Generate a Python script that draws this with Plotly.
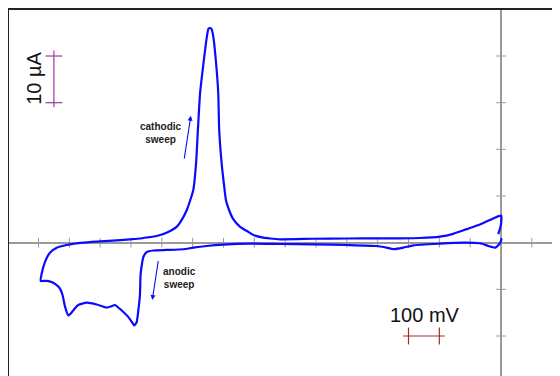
import plotly.graph_objects as go

# Cyclic voltammogram (potential in mV, current in µA)
potential_mV = [
    -9, -1, 1, 1,
    -25, -68, -111, -155, -198, -263, -328, -392, -500, -609, -717, -749, -771,
    -803, -824, -846, -869, -882, -892, -898, -906, -914, -917, -924, -933,
    -939, -944, -949, -954, -965, -976, -983, -989, -998, -1019, -1041, -1052,
    -1073, -1095, -1117, -1149, -1171, -1203, -1246, -1300, -1355, -1408, -1441,
    -1463, -1479, -1490, -1493,
    -1484, -1472, -1452, -1436, -1429, -1422, -1414, -1403, -1392, -1382, -1371,
    -1344, -1311, -1279, -1265, -1252, -1236, -1223, -1209, -1197, -1190, -1182,
    -1176, -1171, -1169, -1164, -1160, -1149, -1128, -1084, -1030, -998, -954,
    -901, -814, -717, -609, -500, -403, -371, -349, -317, -284, -198, -122, -68,
    -41, -19, -9, -1, 2,
]
current_uA = [
    1.8, 3.6, 4.7, 5.8,
    5.2, 3.9, 2.9, 1.9, 1.3, 1.0, 0.94, 0.94, 0.9, 0.84, 0.73, 0.9, 1.07,
    1.65, 2.5, 3.4, 5.1, 7.0, 9.1, 12.2, 17.0, 24.2, 32.0, 38.4, 44.1,
    45.8, 46.0, 45.8, 44.1, 38.4, 32.0, 24.2, 17.0, 11.3, 7.0, 4.3, 3.4,
    2.5, 1.86, 1.44, 1.11, 0.9, 0.73, 0.51, 0.26, 0.0, -0.49, -1.07,
    -2.14, -4.1, -6.7, -8.2,
    -8.2, -8.2, -8.6, -9.4, -10.0, -11.2, -13.7, -15.6, -14.9, -14.1, -13.35,
    -12.86, -13.24, -13.9, -13.67, -13.35, -14.2, -14.96, -15.9, -17.0, -17.7, -17.1,
    -14.4, -11.2, -6.9, -4.35, -3.06, -2.0, -1.67, -1.56, -1.41, -1.07, -0.71,
    -0.43, -0.21, -0.28, -0.34, -0.49, -0.71, -1.07, -1.39, -1.07, -0.56, -0.21, 0.0, -0.13,
    -0.71, -1.07, -0.56, 0.21, 0.94,
]

x_ticks = [-1500, -1400, -1300, -1200, -1100, -1000, -900, -800, -700, -600,
           -500, -400, -300, -200, -100, 100, 200]
y_ticks = [-30, -20, -10, 10, 20, 30, 40, 50]

# scale bars
v_bar_x = [-318, -182]
v_bar_y = [-20, -20]
v_bar_ticks = [-300, -200]
i_bar_x = [-1450, -1450]
i_bar_y = [29.0, 41.2]
i_bar_ticks = [30, 40]

AXIS_GREY = "#9a9a9a"
BLUE = "#0a0aff"
FONT = "Arial, Liberation Sans, sans-serif"

fig = go.Figure()

# axis tick marks (crossing the axes)
fig.add_trace(go.Scatter(
    x=x_ticks, y=[0] * len(x_ticks), mode="markers",
    marker=dict(symbol="line-ns", size=7, line=dict(color=AXIS_GREY, width=1)),
    hoverinfo="skip", showlegend=False, cliponaxis=False))
fig.add_trace(go.Scatter(
    x=[0] * len(y_ticks), y=y_ticks, mode="markers",
    marker=dict(symbol="line-ew", size=7, line=dict(color=AXIS_GREY, width=1)),
    hoverinfo="skip", showlegend=False, cliponaxis=False))

# voltammogram
fig.add_trace(go.Scatter(
    x=potential_mV, y=current_uA, mode="lines",
    line=dict(color=BLUE, width=2.2, shape="spline", smoothing=0.5),
    showlegend=False))

# 100 mV scale bar
RED = "#a52a2a"
fig.add_trace(go.Scatter(x=v_bar_x, y=v_bar_y, mode="lines",
                         line=dict(color=RED, width=1.2), showlegend=False))
fig.add_trace(go.Scatter(x=v_bar_ticks, y=[v_bar_y[0]] * 2, mode="markers",
                         marker=dict(symbol="line-ns", size=12, line=dict(color=RED, width=1.2)),
                         showlegend=False))
# 10 µA scale bar
PURPLE = "#9b3a9b"
fig.add_trace(go.Scatter(x=i_bar_x, y=i_bar_y, mode="lines",
                         line=dict(color=PURPLE, width=1.2), showlegend=False))
fig.add_trace(go.Scatter(x=[i_bar_x[0]] * 2, y=i_bar_ticks, mode="markers",
                         marker=dict(symbol="line-ew", size=12, line=dict(color=PURPLE, width=1.2)),
                         showlegend=False))

annotations = [
    dict(x=-1515, y=35.3, text="10 µA", textangle=-90, showarrow=False,
         font=dict(size=20, color="#111", family=FONT), xanchor="center", yanchor="middle"),
    dict(x=-248, y=-15.6, text="100 mV", showarrow=False,
         font=dict(size=20, color="#111", family=FONT), xanchor="center", yanchor="middle"),
    dict(x=-1103, y=23.5, text="<b>cathodic<br>sweep</b>", showarrow=False,
         font=dict(size=10, color="#222", family=FONT), xanchor="center", yanchor="middle"),
    dict(x=-1043, y=-7.6, text="<b>anodic<br>sweep</b>", showarrow=False,
         font=dict(size=10, color="#222", family=FONT), xanchor="center", yanchor="middle"),
    dict(x=-1006, y=27.2, ax=-1028, ay=17.7, axref="x", ayref="y", text="",
         showarrow=True, arrowhead=2, arrowsize=0.9, arrowwidth=1.1, arrowcolor=BLUE),
    dict(x=-1131, y=-12.3, ax=-1111, ay=-3.6, axref="x", ayref="y", text="",
         showarrow=True, arrowhead=2, arrowsize=0.9, arrowwidth=1.1, arrowcolor=BLUE),
]

fig.update_layout(
    width=560, height=376,
    margin=dict(l=1, r=0, t=2, b=0, pad=0),
    paper_bgcolor="white", plot_bgcolor="white",
    annotations=annotations,
    xaxis=dict(range=[-1595.7, 217.3], side="top", showline=True, linecolor="#222",
               linewidth=2, showgrid=False, zeroline=True, zerolinecolor=AXIS_GREY,
               zerolinewidth=1.5, showticklabels=False, ticks=""),
    yaxis=dict(range=[-30.28, 49.86], showline=True, linecolor="#222", linewidth=2,
               showgrid=False, zeroline=True, zerolinecolor=AXIS_GREY, zerolinewidth=1.5,
               showticklabels=False, ticks=""),
    font=dict(family=FONT),
)

fig.write_html("out.html")
